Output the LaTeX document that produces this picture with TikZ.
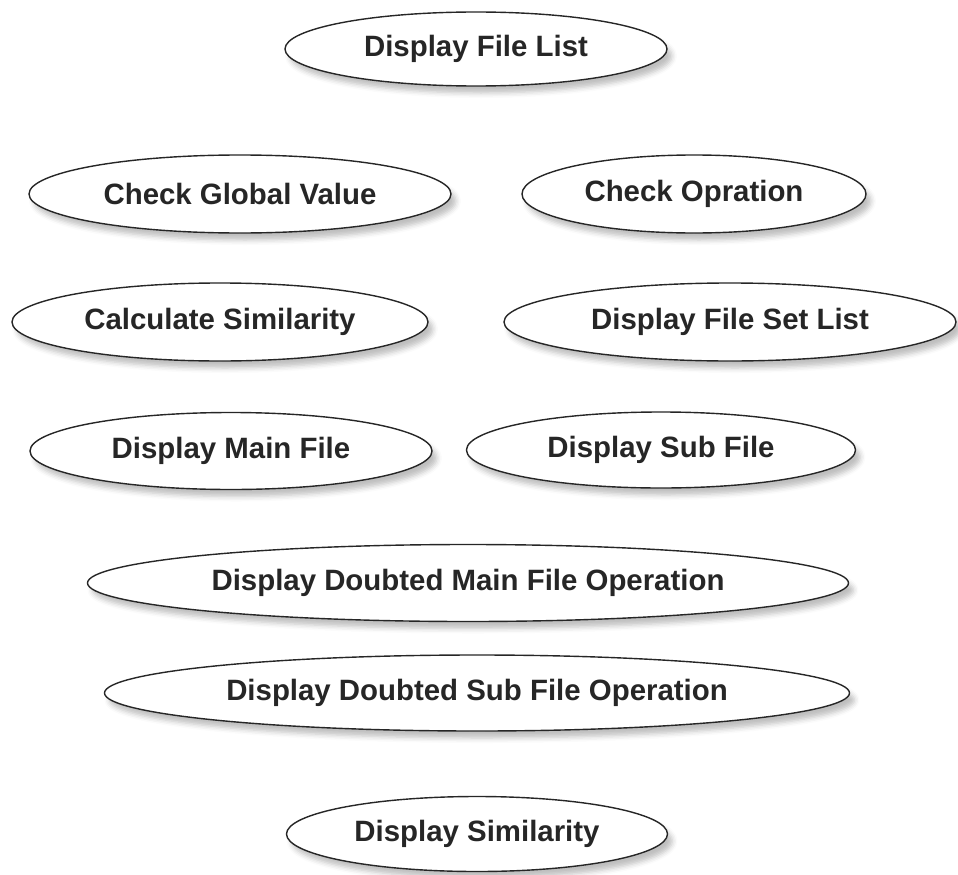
\documentclass[tikz,border=0pt]{standalone}
\usepackage{fontspec}
\setmainfont{Liberation Sans}
\usetikzlibrary{shapes.geometric,shadows.blur}

\tikzset{
  usecase/.style={ellipse, draw=black!85, line width=1.4pt, fill=white, inner sep=0pt,
    text=black!85, font=\bfseries\fontsize{29.4}{34}\selectfont,
    blur shadow={shadow xshift=5pt, shadow yshift=-7pt, shadow blur radius=5pt, shadow opacity=25}}
}

\begin{document}
\begin{tikzpicture}[x=1pt,y=-1pt]
   \useasboundingbox (0,0) rectangle (958,875);

   \node[usecase, minimum width=382pt, minimum height=74pt] (filelist) at (476,49) {Display File List};

   \node[usecase, minimum width=422pt, minimum height=78pt] (globalval) at (240,194) {Check Global Value};
   \node[usecase, minimum width=344pt, minimum height=78pt] (opration) at (694,194) {Check Opration};

   \node[usecase, minimum width=416pt, minimum height=78pt] (calcsim) at (220,322) {Calculate Similarity};
   \node[usecase, minimum width=452pt, minimum height=78pt] (filesetlist) at (730,322) {Display File Set List};

   \node[usecase, minimum width=402pt, minimum height=77pt] (mainfile) at (231,451) {Display Main File};
   \node[usecase, minimum width=389pt, minimum height=76pt] (subfile) at (661,450) {Display Sub File};

   \node[usecase, minimum width=761pt, minimum height=77pt] (doubtmain) at (468,583) {Display Doubted Main File Operation};
   \node[usecase, minimum width=745pt, minimum height=76pt] (doubtsub) at (477,693) {Display Doubted Sub File Operation};

   \node[usecase, minimum width=381pt, minimum height=75pt] (similarity) at (477,834) {Display Similarity};
\end{tikzpicture}
\end{document}
